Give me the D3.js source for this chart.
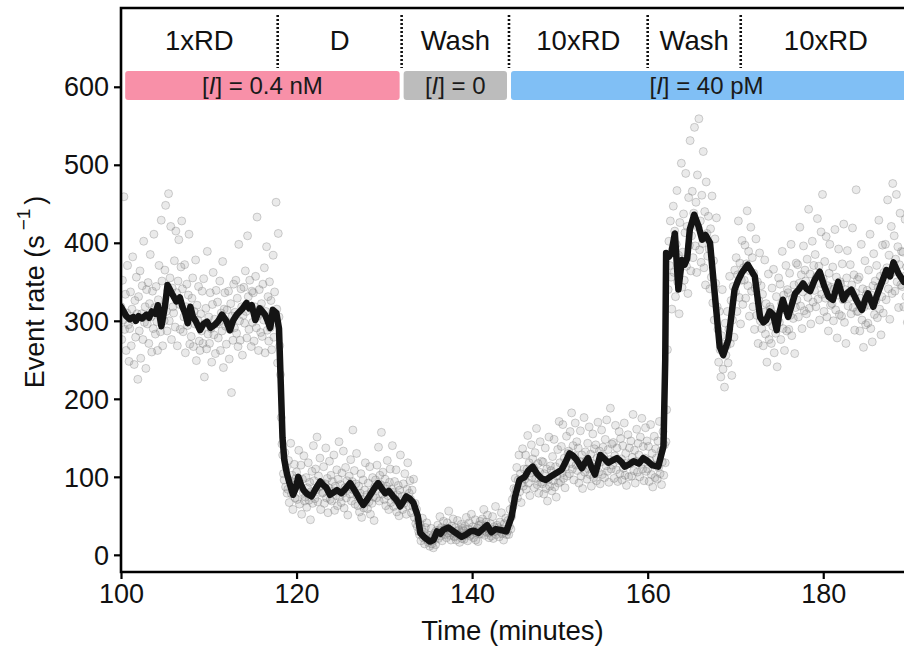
<!DOCTYPE html>
<html>
<head>
<meta charset="utf-8">
<script src="https://cdn.jsdelivr.net/npm/d3@7"></script>
<style>
  body { margin: 0; background: #fff; }
  svg { display: block; font-family: "Liberation Sans", Arial, sans-serif; }
</style>
</head>
<body>
<svg id="chart" width="904" height="648"></svg>
<script>
// event rate samples, one row per minute starting at 100 min, 12 bins per minute
let sampleStart = 100;
let binsPerMinute = 12;
let rateRows = [
  [318, 276, 352, 301, 459, 289, 334, 262, 310, 371, 295, 248],
  [290, 337, 268, 315, 382, 301, 244, 326, 279, 356, 309, 225],
  [331, 287, 364, 252, 309, 345, 276, 402, 298, 318, 239, 340],
  [296, 349, 271, 322, 385, 305, 260, 338, 290, 411, 317, 283],
  [344, 299, 262, 327, 371, 310, 286, 429, 351, 268, 318, 300],
  [365, 448, 312, 287, 339, 463, 300, 355, 421, 276, 342, 318],
  [310, 377, 292, 415, 336, 268, 351, 404, 321, 289, 369, 428],
  [341, 286, 305, 372, 259, 318, 347, 294, 333, 411, 270, 308],
  [280, 329, 355, 267, 312, 296, 378, 249, 320, 301, 344, 274],
  [262, 309, 287, 338, 271, 354, 228, 297, 316, 264, 389, 283],
  [305, 271, 336, 290, 247, 321, 362, 282, 302, 258, 339, 296],
  [324, 278, 299, 351, 262, 310, 287, 376, 240, 315, 336, 293],
  [270, 314, 297, 338, 251, 289, 322, 208, 306, 275, 347, 291],
  [311, 352, 284, 329, 267, 398, 300, 275, 341, 318, 256, 307],
  [343, 297, 364, 312, 278, 409, 331, 289, 352, 316, 267, 338],
  [298, 336, 274, 318, 357, 291, 433, 306, 262, 340, 315, 285],
  [322, 280, 347, 301, 368, 259, 312, 395, 288, 331, 274, 350],
  [291, 326, 263, 310, 384, 279, 337, 298, 452, 315, 246, 412],
  [305, 268, 231, 176, 142, 128, 104, 96, 131, 87, 112, 79],
  [84, 121, 67, 95, 143, 78, 102, 58, 89, 116, 73, 98],
  [106, 71, 92, 134, 65, 88, 115, 52, 97, 80, 127, 69],
  [74, 99, 61, 86, 118, 70, 93, 45, 81, 107, 66, 140],
  [95, 72, 110, 83, 151, 68, 101, 87, 124, 58, 92, 79],
  [80, 113, 66, 91, 137, 73, 98, 54, 86, 120, 71, 102],
  [69, 94, 82, 128, 57, 88, 76, 109, 63, 97, 145, 74],
  [90, 67, 105, 79, 133, 60, 86, 112, 73, 95, 51, 84],
  [101, 78, 122, 69, 94, 160, 83, 108, 65, 91, 130, 76],
  [63, 88, 55, 79, 104, 48, 71, 96, 60, 83, 118, 67],
  [77, 59, 92, 68, 113, 52, 81, 66, 99, 74, 44, 87],
  [96, 73, 115, 84, 138, 69, 102, 90, 157, 78, 106, 85],
  [71, 97, 63, 88, 121, 76, 58, 93, 110, 67, 84, 140],
  [80, 62, 94, 71, 109, 55, 77, 89, 50, 83, 128, 66],
  [75, 58, 91, 66, 104, 72, 52, 84, 118, 63, 79, 95],
  [71, 54, 83, 62, 97, 48, 66, 40, 58, 36, 44, 30],
  [26, 39, 18, 33, 47, 22, 29, 14, 35, 24, 41, 19],
  [16, 25, 11, 21, 34, 14, 23, 9, 19, 28, 13, 31],
  [27, 38, 21, 32, 49, 24, 35, 18, 29, 43, 26, 33],
  [34, 22, 41, 28, 56, 25, 31, 19, 37, 29, 46, 24],
  [23, 35, 19, 30, 44, 26, 32, 16, 28, 39, 21, 34],
  [31, 20, 37, 25, 48, 27, 18, 33, 41, 24, 29, 52],
  [26, 36, 22, 31, 45, 19, 28, 34, 17, 38, 27, 43],
  [39, 27, 46, 31, 58, 25, 35, 42, 29, 51, 33, 22],
  [28, 40, 24, 33, 49, 21, 36, 30, 62, 26, 38, 31],
  [35, 23, 42, 29, 54, 27, 33, 19, 40, 31, 47, 26],
  [30, 44, 26, 37, 58, 33, 49, 71, 62, 85, 76, 98],
  [84, 112, 73, 96, 128, 81, 104, 67, 92, 136, 88, 110],
  [97, 128, 84, 110, 153, 92, 118, 76, 105, 141, 99, 123],
  [112, 86, 131, 98, 162, 90, 117, 79, 106, 145, 93, 120],
  [91, 119, 78, 104, 137, 85, 110, 69, 96, 151, 88, 114],
  [108, 82, 126, 95, 148, 87, 113, 74, 101, 135, 92, 171],
  [118, 94, 139, 105, 167, 98, 124, 86, 113, 152, 101, 130],
  [133, 104, 158, 117, 182, 110, 140, 96, 127, 169, 115, 145],
  [108, 137, 92, 120, 159, 101, 128, 85, 114, 176, 106, 132],
  [121, 97, 143, 110, 164, 103, 129, 88, 117, 155, 99, 136],
  [112, 141, 95, 124, 170, 106, 133, 91, 119, 160, 103, 138],
  [126, 99, 148, 114, 173, 107, 135, 93, 122, 188, 110, 142],
  [115, 144, 98, 127, 166, 109, 137, 94, 121, 158, 104, 149],
  [123, 96, 140, 111, 169, 102, 130, 89, 118, 154, 100, 137],
  [117, 146, 101, 125, 180, 108, 134, 92, 120, 161, 106, 143],
  [128, 100, 151, 116, 175, 110, 139, 95, 124, 163, 107, 146],
  [110, 139, 94, 121, 167, 103, 130, 87, 115, 152, 99, 136],
  [124, 97, 146, 112, 171, 104, 133, 90, 119, 158, 102, 141],
  [118, 145, 186, 263, 340, 402, 371, 428, 356, 315, 392, 447],
  [362, 415, 331, 398, 467, 350, 384, 309, 426, 371, 502, 343],
  [388, 437, 352, 413, 489, 370, 421, 335, 458, 397, 531, 364],
  [409, 466, 381, 438, 548, 396, 452, 362, 487, 420, 559, 391],
  [428, 375, 461, 399, 517, 368, 440, 346, 478, 412, 383, 434],
  [392, 341, 418, 356, 460, 323, 377, 301, 405, 348, 432, 318],
  [289, 247, 312, 263, 228, 281, 340, 238, 270, 215, 297, 256],
  [268, 312, 246, 289, 357, 271, 326, 230, 301, 344, 279, 365],
  [337, 381, 312, 359, 428, 330, 374, 296, 352, 403, 321, 368],
  [352, 397, 329, 373, 441, 345, 389, 306, 364, 420, 338, 381],
  [318, 361, 289, 342, 405, 307, 350, 271, 326, 387, 300, 345],
  [290, 334, 268, 311, 378, 283, 322, 247, 299, 360, 276, 318],
  [315, 271, 342, 293, 366, 259, 308, 284, 331, 241, 302, 355],
  [298, 347, 276, 322, 389, 290, 333, 262, 314, 371, 287, 340],
  [336, 289, 361, 307, 398, 281, 329, 303, 346, 258, 317, 374],
  [327, 372, 305, 348, 420, 319, 359, 290, 337, 396, 313, 365],
  [351, 309, 379, 330, 443, 316, 360, 296, 345, 402, 324, 371],
  [339, 385, 318, 357, 431, 328, 370, 301, 348, 414, 334, 462],
  [354, 312, 376, 329, 408, 305, 345, 287, 361, 398, 320, 343],
  [322, 369, 300, 341, 417, 314, 356, 278, 333, 392, 308, 350],
  [347, 306, 373, 327, 424, 298, 340, 271, 355, 390, 319, 336],
  [330, 372, 309, 346, 419, 317, 359, 288, 336, 468, 312, 353],
  [312, 356, 287, 329, 398, 301, 341, 266, 318, 377, 295, 334],
  [339, 297, 365, 320, 411, 290, 333, 273, 345, 386, 308, 351],
  [326, 371, 304, 343, 429, 315, 357, 282, 331, 397, 310, 362],
  [352, 398, 327, 368, 455, 341, 384, 302, 360, 421, 335, 476],
  [363, 409, 338, 379, 462, 350, 395, 317, 372, 438, 346, 389],
  [344, 388, 318, 357, 430, 331, 369, 298, 352, 412, 325, 366]
];

// smoothed rate (running mean)
let smoothTime = [100.0, 100.3, 100.6, 101.0, 101.4, 101.7, 102.0, 102.4, 102.9, 103.2, 103.5, 103.9,
  104.2, 104.6, 105.0, 105.3, 105.8, 106.3, 106.7, 107.0, 107.3, 107.6, 107.9, 108.2, 108.5, 109.0,
  109.4, 109.8, 110.2, 110.7, 111.1, 111.5, 112.0, 112.4, 112.8, 113.2, 113.8, 114.3, 114.6, 114.9,
  115.3, 115.8, 116.1, 116.4, 116.7, 117.0, 117.3, 117.7, 118.0, 118.2, 118.4, 118.6, 118.9, 119.2,
  119.6, 119.9, 120.2, 120.5, 120.8, 121.2, 121.7, 122.2, 122.7, 123.0, 123.4, 123.8, 124.2, 124.6,
  125.1, 125.6, 126.1, 126.7, 127.2, 127.6, 128.0, 128.4, 128.9, 129.3, 129.7, 130.1, 130.5, 131.0,
  131.4, 131.8, 132.2, 132.5, 132.9, 133.3, 133.8, 134.1, 134.6, 135.2, 135.6, 136.0, 136.4, 136.7,
  137.3, 137.9, 138.3, 138.8, 139.3, 139.8, 140.2, 140.7, 141.2, 141.7, 142.2, 142.7, 143.2, 143.9,
  144.5, 144.9, 145.4, 146.0, 146.4, 146.9, 147.4, 147.9, 148.4, 148.9, 149.6, 150.2, 150.6, 151.1,
  151.5, 151.9, 152.5, 152.8, 153.2, 153.6, 154.0, 154.3, 154.6, 155.0, 155.5, 156.0, 156.5, 157.0,
  157.4, 157.9, 158.4, 159.0, 159.5, 160.0, 160.5, 161.2, 161.8, 162.0, 162.1, 162.4, 162.7,
  163.1, 163.5, 163.9, 164.2, 164.5, 164.8, 165.3, 165.8, 166.2, 166.6, 167.1, 167.7, 168.2, 168.6,
  169.2, 169.9, 170.3, 170.7, 171.4, 172.2, 172.8, 173.2, 173.5, 173.9, 174.3, 174.7, 175.0, 175.4,
  176.0, 176.4, 176.8, 177.2, 177.7, 178.1, 178.5, 179.0, 179.6, 180.1, 180.6, 181.1, 181.7, 182.3,
  182.7, 183.2, 183.8, 184.4, 184.8, 185.1, 185.7, 186.1, 186.5, 187.2, 187.6, 188.0, 188.6, 189.2];
let smoothRate = [318, 312, 306, 302, 305, 300, 306, 303, 308, 304, 312, 309,
  320, 293, 318, 346, 335, 325, 330, 318, 310, 297, 318, 305, 300, 288,
  296, 299, 291, 295, 300, 308, 300, 288, 301, 308, 315, 323, 316, 320,
  301, 316, 312, 308, 300, 291, 314, 310, 290, 220, 150, 122, 104, 92,
  77, 85, 100, 90, 83, 78, 75, 85, 94, 90, 86, 77, 80, 83,
  79, 85, 92, 81, 71, 64, 70, 77, 86, 92, 85, 79, 82, 75,
  70, 62, 69, 75, 72, 67, 50, 28, 22, 17, 19, 30, 27, 32,
  35, 30, 27, 23, 26, 30, 31, 28, 33, 38, 29, 33, 32, 30,
  49, 75, 96, 100, 108, 113, 104, 98, 96, 100, 105, 109, 118, 130,
  127, 122, 111, 117, 124, 112, 103, 115, 128, 124, 118, 121, 124, 119,
  113, 116, 120, 117, 124, 120, 115, 113, 139, 250, 387, 382, 387,
  412, 340, 378, 372, 380, 417, 436, 421, 404, 410, 400, 327, 267, 256,
  276, 340, 352, 361, 372, 357, 305, 298, 301, 312, 308, 288, 310, 327,
  305, 320, 335, 340, 348, 341, 338, 352, 363, 345, 331, 327, 350, 327,
  335, 340, 326, 314, 328, 335, 318, 332, 344, 365, 357, 375, 360, 350];

// protocol steps along the top
let stepLabels = ["1xRD", "D", "Wash", "10xRD", "Wash", "10xRD"];
let stepBreaks = [100, 117.85, 131.97, 144.2, 160, 170.6, 190];

// inhibitor concentration bands
let bandValues = ["0.4 nM", "0", "40 pM"];
let bandStarts = [100.25, 131.97, 144.2];
let bandEnds = [131.97, 144.2, 190];
let bandColors = ["#f890a8", "#bcbcbc", "#80bff5"];

let xTicks = [100, 120, 140, 160, 180];
let yTicks = [0, 100, 200, 300, 400, 500, 600];

let svg = d3.select("#chart");
let plotLeft = 121, plotRight = 904, plotTop = 8, plotBottom = 572;

// Scales:
let x = d3.scaleLinear().domain([100, 189.2]).range([plotLeft, plotRight]);
let y = d3.scaleLinear().domain([-22, 701]).range([plotBottom, plotTop]);

svg.append("clipPath").attr("id", "plotClip")
  .append("rect")
  .attr("x", plotLeft).attr("y", plotTop)
  .attr("width", plotRight - plotLeft).attr("height", plotBottom - plotTop);

let points = [];
rateRows.forEach((row, r) => {
  row.forEach((v, i) => {
    points.push({ t: sampleStart + r + i / binsPerMinute, v: v });
  });
});

let plot = svg.append("g").attr("clip-path", "url(#plotClip)");

plot.selectAll("circle")
  .data(points)
  .enter()
  .append("circle")
  .attr("cx", d => x(d.t))
  .attr("cy", d => y(d.v))
  .attr("r", 4)
  .attr("fill", "#7a7a7a")
  .attr("fill-opacity", 0.16)
  .attr("stroke", "#7a7a7a")
  .attr("stroke-opacity", 0.34)
  .attr("stroke-width", 1);

let smooth = smoothTime.map((t, i) => ({ t: t, v: smoothRate[i] }));
plot.append("path")
  .datum(smooth)
  .attr("fill", "none")
  .attr("stroke", "#141414")
  .attr("stroke-width", 6.5)
  .attr("stroke-linejoin", "round")
  .attr("stroke-linecap", "round")
  .attr("d", d3.line().x(d => x(d.t)).y(d => y(d.v)));

// step separators + labels
let steps = stepLabels.map((s, i) => ({ label: s, a: stepBreaks[i], b: stepBreaks[i + 1] }));

svg.selectAll(".sep")
  .data(stepBreaks.slice(1, -1))
  .enter()
  .append("line")
  .attr("class", "sep")
  .attr("x1", d => x(d)).attr("x2", d => x(d))
  .attr("y1", 15).attr("y2", 68)
  .attr("stroke", "#111")
  .attr("stroke-width", 2.6)
  .attr("stroke-dasharray", "2,2");

svg.selectAll(".step")
  .data(steps)
  .enter()
  .append("text")
  .attr("class", "step")
  .attr("x", d => (x(d.a) + Math.min(x(d.b), plotRight + 22)) / 2)
  .attr("y", 50)
  .attr("text-anchor", "middle")
  .attr("font-size", 27.5)
  .attr("fill", "#111")
  .text(d => d.label);

// concentration bands
let bands = bandValues.map((v, i) => ({ value: v, a: bandStarts[i], b: bandEnds[i], color: bandColors[i] }));

svg.selectAll(".band")
  .data(bands)
  .enter()
  .append("rect")
  .attr("class", "band")
  .attr("x", d => x(d.a) + 2)
  .attr("y", 71)
  .attr("width", d => x(d.b) - x(d.a) - 4)
  .attr("height", 29)
  .attr("rx", 3)
  .attr("fill", d => d.color);

let bandText = svg.selectAll(".bandLabel")
  .data(bands)
  .enter()
  .append("text")
  .attr("class", "bandLabel")
  .attr("x", d => (x(d.a) + Math.min(x(d.b), plotRight)) / 2)
  .attr("y", 94)
  .attr("text-anchor", "middle")
  .attr("font-size", 24)
  .attr("fill", "#1a1a1a");
bandText.append("tspan").text("[");
bandText.append("tspan").attr("font-style", "italic").text("I");
bandText.append("tspan").text(d => "] = " + d.value);

// Axes:
let xAxis = d3.axisBottom(x).tickValues(xTicks).tickSize(7).tickPadding(5);
let yAxis = d3.axisLeft(y).tickValues(yTicks).tickSize(7).tickPadding(5);

let gx = svg.append("g")
  .attr("transform", `translate(0, ${plotBottom})`)
  .call(xAxis);
let gy = svg.append("g")
  .attr("transform", `translate(${plotLeft}, 0)`)
  .call(yAxis);

[gx, gy].forEach(g => {
  g.select(".domain").remove();
  g.selectAll(".tick line").attr("stroke", "#000").attr("stroke-width", 2.2);
  g.selectAll(".tick text")
    .attr("font-size", 27)
    .attr("font-family", "Liberation Sans, Arial, sans-serif")
    .attr("fill", "#111");
});
gy.selectAll(".tick text").attr("dy", "0.34em");

// frame: left, bottom, top
svg.append("path")
  .attr("d", `M${plotRight},${plotTop}H${plotLeft}V${plotBottom}H${plotRight}`)
  .attr("fill", "none")
  .attr("stroke", "#000")
  .attr("stroke-width", 2.6);

svg.append("text")
  .attr("x", (plotLeft + plotRight) / 2)
  .attr("y", 640)
  .attr("text-anchor", "middle")
  .attr("font-size", 27.5)
  .attr("fill", "#111")
  .text("Time (minutes)");

let yTitle = svg.append("text")
  .attr("transform", "translate(44, 292) rotate(-90)")
  .attr("text-anchor", "middle")
  .attr("font-size", 27)
  .attr("fill", "#111");
yTitle.append("tspan").text("Event rate (s");
yTitle.append("tspan").attr("dx", 5).attr("dy", -14).attr("font-size", 19).text("\u22121");
yTitle.append("tspan").attr("dx", 4).attr("dy", 14).text(")");
</script>
</body>
</html>
